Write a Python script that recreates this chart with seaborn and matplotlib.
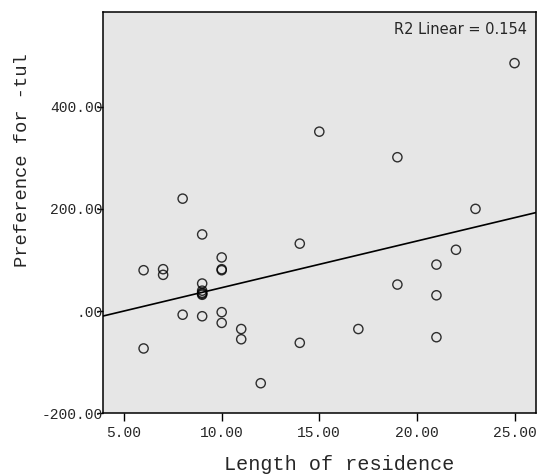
import matplotlib
matplotlib.use('Agg')
import matplotlib.pyplot as plt
import seaborn as sns
import pandas as pd

# Datos (anos de residencia vs preferencia por -tul)
residence = [6, 6, 7, 7, 8, 8, 9, 9, 9, 9, 9, 9, 9, 10, 10, 10, 10, 10,
             11, 11, 12, 14, 14, 15, 17, 19, 19, 21, 21, 21, 22, 23, 25]
preference = [80, -73, 82, 71, 220, -7, 150, 54, 40, 36, 32, -10, 34, 105, 82, 80, -2, -23,
              -35, -55, -141, 132, -62, 351, -35, 301, 52, 91, 31, -51, 120, 200, 485]
r2_label = 'R2 Linear = 0.154'
x_ticks = [5, 10, 15, 20, 25]
y_ticks = [-200, 0, 200, 400]
y_tick_labels = ['-200.00', '.00', '200.00', '400.00']
x_tick_labels = ['5.00', '10.00', '15.00', '20.00', '25.00']

df = pd.DataFrame({'Length of residence': residence, 'Preference for -tul': preference})

sns.set_style('white')
mono = 'Liberation Mono'

fig = plt.figure(figsize=(5.4, 4.75), dpi=100)
ax = fig.add_axes([0.190, 0.1297, 0.8026, 0.845])
ax.set_facecolor('#e6e6e6')
ax.set_xlim(3.9, 26.1)
ax.set_ylim(-200, 585)

sns.regplot(data=df, x='Length of residence', y='Preference for -tul', ax=ax, ci=None,
            truncate=False, marker='o',
            scatter_kws={'s': 44, 'facecolors': 'none', 'edgecolors': 'black', 'linewidths': 1.0},
            line_kws={'color': 'black', 'linewidth': 1.2})
ax.set_xlim(3.9, 26.1)
ax.set_ylim(-200, 585)

for sp in ax.spines.values():
    sp.set_color('black')
    sp.set_linewidth(1.1)
    sp.set_visible(True)

ax.set_xticks(x_ticks)
ax.set_xticklabels(x_tick_labels, family=mono, fontsize=10.5)
ax.set_yticks(y_ticks)
ax.set_yticklabels(y_tick_labels, family=mono, fontsize=10.5)
ax.tick_params(axis='x', direction='out', length=6, width=1, color='black', pad=3, bottom=True)
ax.tick_params(axis='y', direction='out', length=4, width=1, color='black', pad=-4, left=True)

ax.set_xlabel('Length of residence', family=mono, fontsize=14.5)
ax.set_ylabel('Preference for -tul', family=mono, fontsize=13.5)
ax.xaxis.set_label_coords(0.545, -0.104)
ax.yaxis.set_label_coords(-0.165, 0.631)

ax.text(0.979, 0.957, r2_label, transform=ax.transAxes, ha='right', va='center',
        family='DejaVu Sans', fontsize=10.5)

plt.savefig('out.png', dpi=100)
